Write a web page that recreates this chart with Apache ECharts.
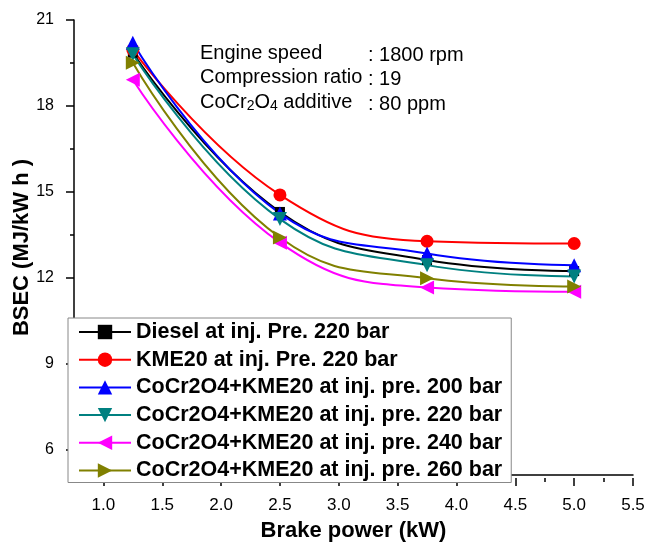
<!DOCTYPE html>
<html>
<head>
<meta charset="utf-8">
<script src="https://cdn.jsdelivr.net/npm/echarts@6/dist/echarts.min.js"></script>
<style>
html,body{margin:0;padding:0;background:#fff;}
#chart{width:648px;height:547px;}
</style>
</head>
<body>
<div id="chart"></div>
<script>
// ---- data ----
const brakePower = [1.25, 2.5, 3.75, 5.0];
const seriesNames = [
  'Diesel at inj. Pre. 220 bar',
  'KME20 at inj. Pre. 220 bar',
  'CoCr2O4+KME20 at inj. pre. 200 bar',
  'CoCr2O4+KME20 at inj. pre. 220 bar',
  'CoCr2O4+KME20 at inj. pre. 240 bar',
  'CoCr2O4+KME20 at inj. pre. 260 bar'
];
const diesel220 = [19.85, 14.25, 12.56, 12.17];
const kme20_220 = [19.95, 14.85, 13.22, 13.14];
const cocr200 = [20.2, 14.2, 12.79, 12.38];
const cocr220 = [19.8, 14.0, 12.38, 11.98];
const cocr240 = [18.9, 13.17, 11.59, 11.44];
const cocr260 = [19.5, 13.35, 11.92, 11.63];
const xTickValues = [1.0, 1.5, 2.0, 2.5, 3.0, 3.5, 4.0, 4.5, 5.0, 5.5];
const yTickValues = [6, 9, 12, 15, 18, 21];

const seriesData = [diesel220, kme20_220, cocr200, cocr220, cocr240, cocr260];
const colors = ['#000000', '#ff0000', '#0000ff', '#008080', '#ff00ff', '#808000'];
const symbols = ['rect', 'circle', 'triangle',
  'path://M0,0 L10,0 L5,9 Z',
  'path://M9,0 L9,10 L0,5 Z',
  'path://M0,0 L9,5 L0,10 Z'];
const symbolSizes = [10, 13, 14, 14, 14, 14];

const chart = echarts.init(document.getElementById('chart'), null, {renderer: 'canvas'});

// geometry of the plot frame
const G = {left: 74, right: 15, top: 20, bottom: 69};
const xMin = 0.75, xMax = 5.5, yMin = 5, yMax = 21;
const plotW = 648 - G.left - G.right;
const plotH = 547 - G.top - G.bottom;
const xUnit = plotW / (xMax - xMin);
const yUnit = plotH / (yMax - yMin);
const x0 = xTickValues[0], y0 = yTickValues[0];
const dxOff = (x0 - xMin) * xUnit;
const dyOff = (y0 - yMin) * yUnit;

const series = seriesNames.map((name, i) => ({
  name: name,
  type: 'line',
  xAxisIndex: 0,
  yAxisIndex: 0,
  smooth: 0.45,
  data: brakePower.map((x, j) => [x, seriesData[i][j]]),
  symbol: symbols[i],
  symbolSize: symbolSizes[i],
  lineStyle: {color: colors[i], width: 2},
  itemStyle: {color: colors[i]}
}));

const FF = 'Liberation Sans, Arial';
const option = {
  backgroundColor: '#fff',
  animation: false,
  grid: [
    {left: G.left, right: G.right, top: G.top, bottom: G.bottom},
    {left: G.left + dxOff, right: G.right, top: G.top, bottom: G.bottom + dyOff}
  ],
  xAxis: [
    {
      type: 'value', gridIndex: 0, min: xMin, max: xMax,
      axisLine: {show: true, lineStyle: {color: '#000', width: 1.5}},
      axisTick: {show: false}, axisLabel: {show: false}, splitLine: {show: false},
      name: 'Brake power (kW)', nameLocation: 'middle', nameGap: 45,
      nameTextStyle: {fontFamily: FF, fontWeight: 'bold', fontSize: 22, color: '#000'}
    },
    {
      type: 'value', gridIndex: 1, min: xTickValues[0], max: xTickValues[xTickValues.length - 1], interval: 0.5,
      offset: dyOff,
      axisLine: {show: false},
      axisTick: {show: true, length: 8, lineStyle: {color: '#000', width: 1.5}},
      minorTick: {show: true, splitNumber: 2, length: 4, lineStyle: {color: '#000', width: 1.5}},
      axisLabel: {show: true, margin: 19, fontFamily: FF, fontSize: 17, color: '#000',
        formatter: v => v.toFixed(1)},
      splitLine: {show: false}
    }
  ],
  yAxis: [
    {
      type: 'value', gridIndex: 0, min: yMin, max: yMax,
      axisLine: {show: true, lineStyle: {color: '#000', width: 1.5}},
      axisTick: {show: false}, axisLabel: {show: false}, splitLine: {show: false},
      name: 'BSEC (MJ/kW h )', nameLocation: 'middle', nameGap: 41,
      nameTextStyle: {fontFamily: FF, fontWeight: 'bold', fontSize: 22, color: '#000'}
    },
    {
      type: 'value', gridIndex: 1, min: yTickValues[0], max: yTickValues[yTickValues.length - 1], interval: 3,
      offset: dxOff,
      axisLine: {show: false},
      axisTick: {show: true, length: 8, lineStyle: {color: '#000', width: 1.5}},
      minorTick: {show: true, splitNumber: 2, length: 4, lineStyle: {color: '#000', width: 1.5}},
      axisLabel: {show: true, margin: 20, fontFamily: FF, fontSize: 16, color: '#000'},
      splitLine: {show: false}
    }
  ],
  legend: {
    show: true,
    orient: 'vertical',
    left: 68, top: 318,
    padding: [3, 9, 1, 10],
    backgroundColor: '#fff',
    borderColor: '#888',
    borderWidth: 1,
    itemWidth: 52,
    itemHeight: 18,
    itemGap: 5.7,
    textStyle: {fontFamily: FF, fontWeight: 'bold', fontSize: 21.5, lineHeight: 22, color: '#000'},
    data: seriesNames
  },
  graphic: [
    {
      type: 'text', left: 200, top: 43, z: 10,
      style: {
        text: '{n|Engine speed}\n{n|Compression ratio}\n{n|CoCr}{s|2}{n|O}{s|4}{n| additive}',
        rich: {
          n: {fontFamily: FF, fontSize: 20, lineHeight: 24.5, fill: '#000'},
          s: {fontFamily: FF, fontSize: 14, lineHeight: 24.5, padding: [9, 0, 0, 0], fill: '#000'}
        }
      }
    },
    {
      type: 'text', left: 368, top: 43, z: 10,
      style: {
        text: ': 1800 rpm\n: 19\n: 80 ppm',
        fontFamily: FF, fontSize: 20, lineHeight: 24.5, fill: '#000'
      }
    }
  ],
  series: series
};
chart.setOption(option);
</script>
</body>
</html>
